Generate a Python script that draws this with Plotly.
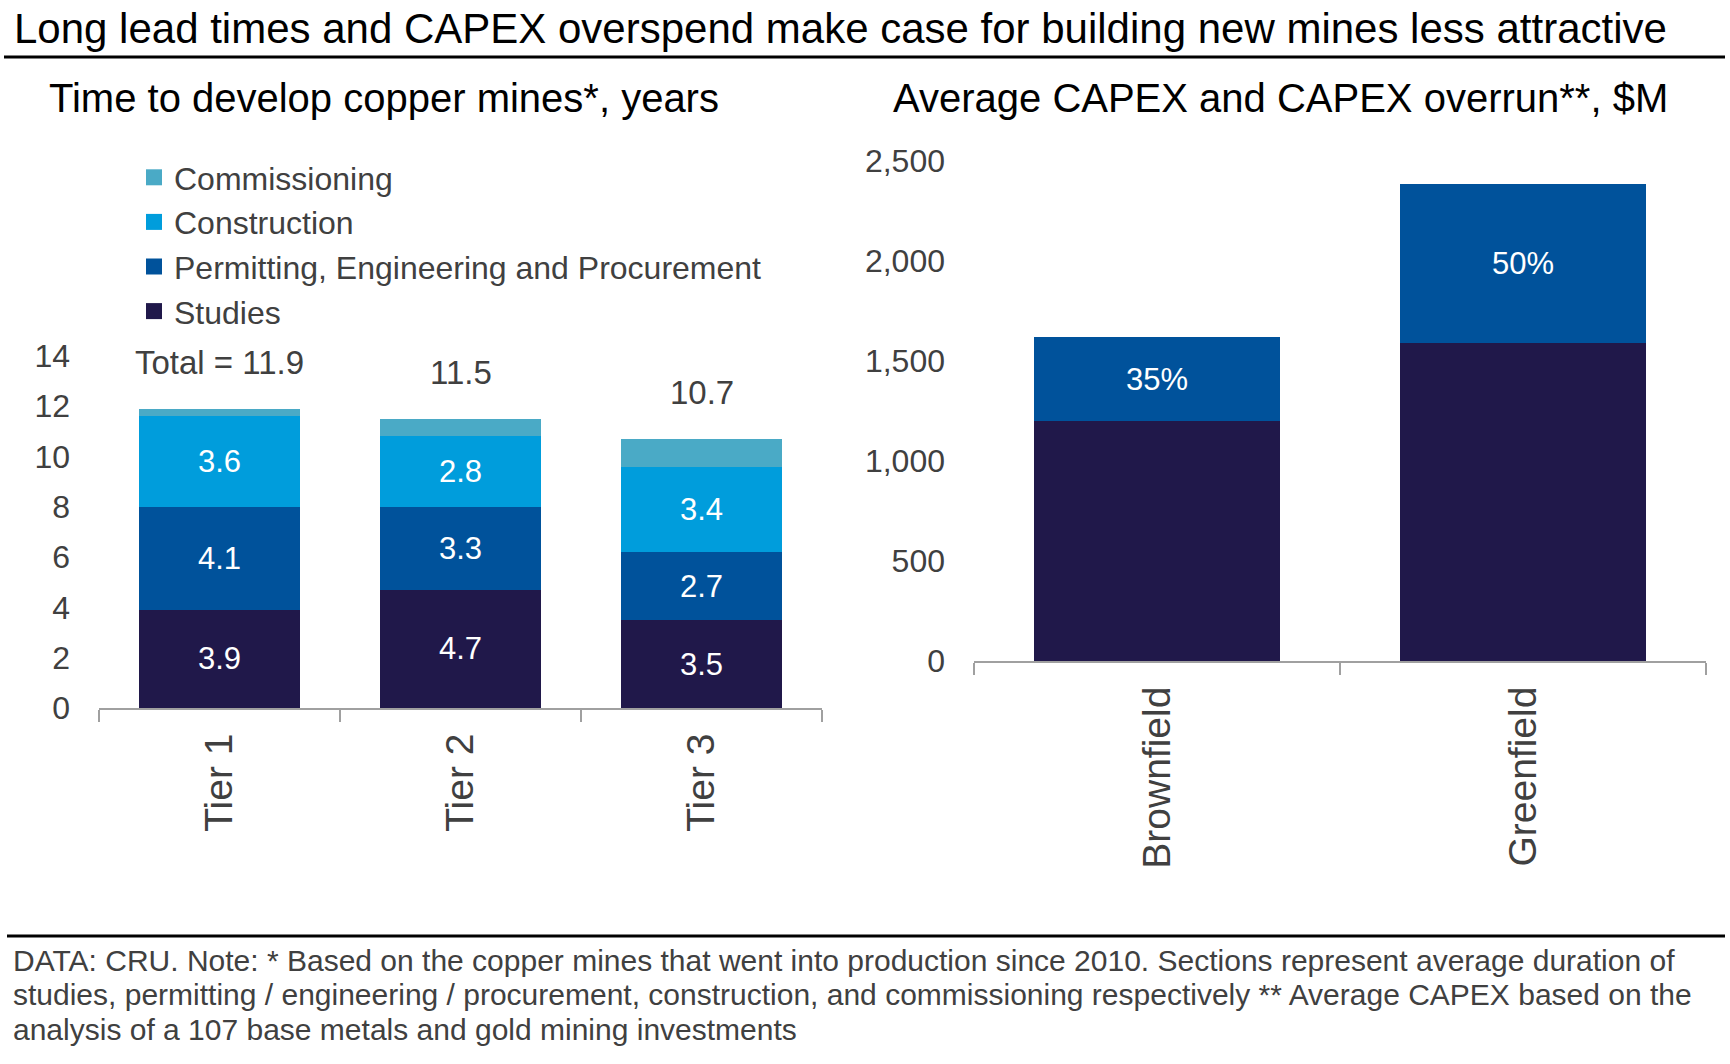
import plotly.graph_objects as go

# ---- data ----
tiers = ["Tier 1", "Tier 2", "Tier 3"]
studies = [3.9, 4.7, 3.5]
permitting = [4.1, 3.3, 2.7]
construction = [3.6, 2.8, 3.4]
commissioning = [0.3, 0.7, 1.1]

projects = ["Brownfield", "Greenfield"]
capex_base = [1200, 1590]
capex_overrun = [420, 795]
overrun_pct = ["35%", "50%"]

footer_lines = [
    "DATA: CRU. Note: * Based on the copper mines that went into production since 2010. "
    "Sections represent average duration of",
    "studies, permitting / engineering / procurement, construction, and commissioning "
    "respectively ** Average CAPEX based on the",
    "analysis of a 107 base metals and gold mining investments",
]

# ---- style ----
FONT = "Arial, Liberation Sans, sans-serif"
GREY = "#404040"
AXIS_GREY = "#a0a0a0"
C_STUDIES = "#20184a"
C_PERMIT = "#00529b"
C_CONSTR = "#009ddc"
C_COMMISS = "#4aaac6"

W, H = 1730, 1064


def px(X):
    return X / W


def py(Y):
    return 1 - Y / H


fig = go.Figure()

left_series = [
    ("Studies", studies, C_STUDIES, 4),
    ("Permitting, Engineering and Procurement", permitting, C_PERMIT, 3),
    ("Construction", construction, C_CONSTR, 2),
    ("Commissioning", commissioning, C_COMMISS, 1),
]
for name, vals, col, rank in left_series:
    show_text = name != "Commissioning"
    fig.add_trace(go.Bar(
        x=tiers, y=vals, name=name, marker_color=col,
        marker_line_width=0, legendgroup=name, showlegend=False,
        text=[f"{v:.1f}" for v in vals] if show_text else None,
        textposition="inside", insidetextanchor="middle",
        textangle=0,
        textfont=dict(color="white", size=31, family=FONT),
        xaxis="x", yaxis="y",
    ))
    # legend entry with a larger square swatch
    fig.add_trace(go.Scatter(
        x=[None], y=[None], mode="markers", name=name, legendgroup=name,
        legendrank=rank, hoverinfo="skip",
        marker=dict(symbol="square", size=16, color=col),
        xaxis="x", yaxis="y",
    ))

fig.add_trace(go.Bar(
    x=projects, y=capex_base, name="Average CAPEX", marker_color=C_STUDIES,
    marker_line_width=0, showlegend=False, xaxis="x2", yaxis="y2",
))
fig.add_trace(go.Bar(
    x=projects, y=capex_overrun, name="CAPEX overrun", marker_color=C_PERMIT,
    marker_line_width=0, showlegend=False, xaxis="x2", yaxis="y2",
    text=overrun_pct, textposition="inside", insidetextanchor="middle",
    textangle=0, textfont=dict(color="white", size=31, family=FONT),
))

# totals above the tier bars
totals = [a + b + c + d for a, b, c, d in zip(studies, permitting, construction, commissioning)]
for i, (tier, tot) in enumerate(zip(tiers, totals)):
    label = f"Total = {tot:.1f}" if i == 0 else f"{tot:.1f}"
    fig.add_annotation(
        x=tier, y=tot, xref="x", yref="y", text=label, showarrow=False,
        yanchor="middle", yshift=46,
        font=dict(size=33, color=GREY, family=FONT),
    )

xaxis_common = dict(
    type="category", showline=True, linecolor=AXIS_GREY, linewidth=2,
    ticks="outside", tickson="boundaries", ticklen=12, tickwidth=2,
    tickcolor=AXIS_GREY, tickangle=-90, showgrid=False, zeroline=False,
    ticklabelstandoff=8, automargin=False,
    tickfont=dict(size=39, color=GREY, family=FONT),
)
yaxis_common = dict(
    showline=False, showgrid=False, zeroline=False, ticks="", automargin=False,
    tickfont=dict(size=32, color=GREY, family=FONT),
)

fig.update_layout(
    width=W, height=H,
    margin=dict(l=0, r=0, t=0, b=0, autoexpand=False),
    paper_bgcolor="white", plot_bgcolor="white",
    barmode="stack", bargap=0.33,
    font=dict(family=FONT, color=GREY),
    xaxis=dict(domain=[px(99), px(822)], anchor="y", **xaxis_common),
    yaxis=dict(domain=[py(708), py(356)], anchor="x", range=[0, 14],
               dtick=2, ticklabelstandoff=28, **yaxis_common),
    xaxis2=dict(domain=[px(974), px(1706)], anchor="y2", **xaxis_common),
    yaxis2=dict(domain=[py(661), py(161)], anchor="x2", range=[0, 2500],
                dtick=500, tickformat=",", ticklabelstandoff=28, **yaxis_common),
    legend=dict(
        x=px(134), y=py(150), xanchor="left", yanchor="top",
        traceorder="normal",
        font=dict(size=32, color=GREY, family=FONT),
        bgcolor="rgba(0,0,0,0)",
    ),
    showlegend=True,
)

# headline, subtitles, footer
fig.add_annotation(
    x=px(12), y=py(29), xref="paper", yref="paper", xanchor="left",
    yanchor="middle", showarrow=False,
    text="Long lead times and CAPEX overspend make case for building new mines less attractive",
    font=dict(size=42, color="black", family=FONT),
)
for x0, txt in [(47, "Time to develop copper mines*, years"),
                (891, "Average CAPEX and CAPEX overrun**, $M")]:
    fig.add_annotation(
        x=px(x0), y=py(98), xref="paper", yref="paper", xanchor="left",
        yanchor="middle", showarrow=False, text=txt,
        font=dict(size=40, color="black", family=FONT),
    )
for i, line in enumerate(footer_lines):
    fig.add_annotation(
        x=px(11), y=py(960 + 34.5 * i), xref="paper", yref="paper", xanchor="left",
        yanchor="middle", align="left", showarrow=False, text=line,
        font=dict(size=30, color=GREY, family=FONT),
    )

fig.add_shape(type="line", xref="paper", yref="paper",
              x0=px(4), x1=px(1725), y0=py(57), y1=py(57),
              line=dict(color="black", width=3))
fig.add_shape(type="line", xref="paper", yref="paper",
              x0=px(7), x1=px(1725), y0=py(936), y1=py(936),
              line=dict(color="black", width=3))

fig.write_html(
    "out.html",
    config={"displayModeBar": False},
    post_script="document.body.style.margin='0';"
                "document.documentElement.style.overflow='hidden';",
)
